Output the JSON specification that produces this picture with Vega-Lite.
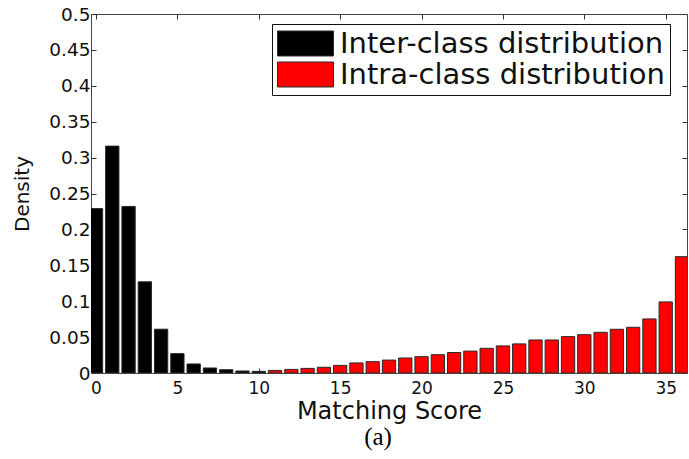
{
  "$schema": "https://vega.github.io/schema/vega-lite/v6.json",
  "width": 596,
  "height": 359,
  "autosize": {"type": "none"},
  "padding": {"left": 91, "top": 14, "right": 2, "bottom": 86},
  "background": "white",
  "config": {"view": {"stroke": null}, "font": "DejaVu Sans"},
  "title": {
    "text": "(a)",
    "orient": "bottom",
    "anchor": "middle",
    "font": "Liberation Serif",
    "fontSize": 25,
    "fontWeight": "normal",
    "color": "black",
    "offset": 22,
    "dy": -20,
    "dx": -11
  },
  "datasets": {
    "inter": [
      {"score": 0, "density": 0.229, "series": "Inter-class distribution"},
      {"score": 1, "density": 0.316, "series": "Inter-class distribution"},
      {"score": 2, "density": 0.232, "series": "Inter-class distribution"},
      {"score": 3, "density": 0.127, "series": "Inter-class distribution"},
      {"score": 4, "density": 0.061, "series": "Inter-class distribution"},
      {"score": 5, "density": 0.027, "series": "Inter-class distribution"},
      {"score": 6, "density": 0.0126, "series": "Inter-class distribution"},
      {"score": 7, "density": 0.007, "series": "Inter-class distribution"},
      {"score": 8, "density": 0.0046, "series": "Inter-class distribution"},
      {"score": 9, "density": 0.0028, "series": "Inter-class distribution"},
      {"score": 10, "density": 0.0023, "series": "Inter-class distribution"}
    ],
    "intra": [
      {"score": 11, "density": 0.0036, "series": "Intra-class distribution"},
      {"score": 12, "density": 0.005, "series": "Intra-class distribution"},
      {"score": 13, "density": 0.0064, "series": "Intra-class distribution"},
      {"score": 14, "density": 0.008, "series": "Intra-class distribution"},
      {"score": 15, "density": 0.0106, "series": "Intra-class distribution"},
      {"score": 16, "density": 0.014, "series": "Intra-class distribution"},
      {"score": 17, "density": 0.0158, "series": "Intra-class distribution"},
      {"score": 18, "density": 0.018, "series": "Intra-class distribution"},
      {"score": 19, "density": 0.0209, "series": "Intra-class distribution"},
      {"score": 20, "density": 0.0227, "series": "Intra-class distribution"},
      {"score": 21, "density": 0.0255, "series": "Intra-class distribution"},
      {"score": 22, "density": 0.0285, "series": "Intra-class distribution"},
      {"score": 23, "density": 0.0305, "series": "Intra-class distribution"},
      {"score": 24, "density": 0.0344, "series": "Intra-class distribution"},
      {"score": 25, "density": 0.0377, "series": "Intra-class distribution"},
      {"score": 26, "density": 0.0405, "series": "Intra-class distribution"},
      {"score": 27, "density": 0.046, "series": "Intra-class distribution"},
      {"score": 28, "density": 0.046, "series": "Intra-class distribution"},
      {"score": 29, "density": 0.0507, "series": "Intra-class distribution"},
      {"score": 30, "density": 0.0534, "series": "Intra-class distribution"},
      {"score": 31, "density": 0.0567, "series": "Intra-class distribution"},
      {"score": 32, "density": 0.0609, "series": "Intra-class distribution"},
      {"score": 33, "density": 0.0637, "series": "Intra-class distribution"},
      {"score": 34, "density": 0.0753, "series": "Intra-class distribution"},
      {"score": 35, "density": 0.099, "series": "Intra-class distribution"},
      {"score": 36, "density": 0.162, "series": "Intra-class distribution"}
    ]
  },
  "layer": [
    {
      "data": {"name": "inter"},
      "mark": {"type": "bar", "width": 13.3, "clip": true, "stroke": "#2a2a2a", "strokeWidth": 1},
      "encoding": {
        "x": {
          "field": "score",
          "type": "quantitative",
          "scale": {"domain": [0, 36], "nice": false, "zero": false},
          "axis": {
            "orient": "bottom",
            "values": [0, 5, 10, 15, 20, 25, 30, 35],
            "format": "d",
            "grid": false,
            "domainColor": "#444444",
            "tickColor": "#333333",
            "tickSize": -5,
            "labelFont": "DejaVu Sans",
            "labelFontSize": 17,
            "labelColor": "#111111",
            "labelPadding": 12,
            "labelFlush": false,
            "title": "Matching Score",
            "titleFont": "DejaVu Sans",
            "titleFontSize": 24,
            "titleFontWeight": "normal",
            "titleColor": "#111111",
            "titlePadding": 3
          }
        },
        "y": {
          "field": "density",
          "type": "quantitative",
          "scale": {"domain": [0, 0.5], "nice": false},
          "axis": {
            "orient": "left",
            "values": [0, 0.05, 0.1, 0.15, 0.2, 0.25, 0.3, 0.35, 0.4, 0.45, 0.5],
            "format": ".2~f",
            "grid": false,
            "domainColor": "#444444",
            "tickColor": "#333333",
            "tickSize": -5,
            "labelFont": "DejaVu Sans",
            "labelFontSize": 18.5,
            "labelColor": "#111111",
            "labelPadding": 6,
            "labelFlush": false,
            "title": "Density",
            "titleFont": "DejaVu Sans",
            "titleFontSize": 20,
            "titleFontWeight": "normal",
            "titleColor": "#111111",
            "titlePadding": 16
          }
        },
        "fill": {
          "field": "series",
          "type": "nominal",
          "scale": {
            "domain": ["Inter-class distribution", "Intra-class distribution"],
            "range": ["#000000", "#ff0000"]
          },
          "legend": {
            "orient": "none",
            "legendX": 181,
            "legendY": 10,
            "title": null,
            "direction": "vertical",
            "symbolType": "M-1,-0.892L3,-0.892L3,0.892L-1,0.892Z",
            "symbolSize": 784,
            "symbolStrokeColor": "#111111",
            "symbolStrokeWidth": 1,
            "labelFont": "DejaVu Sans",
            "labelFontSize": 29,
            "labelColor": "#111111",
            "labelLimit": 0,
            "labelOffset": 34,
            "padding": 5,
            "rowPadding": 1,
            "strokeColor": "#111111",
            "fillColor": "white",
            "cornerRadius": 0
          }
        }
      }
    },
    {
      "data": {"name": "intra"},
      "mark": {"type": "bar", "width": 13.3, "clip": true, "stroke": "#2a2a2a", "strokeWidth": 1},
      "encoding": {
        "x": {
          "field": "score",
          "type": "quantitative",
          "axis": {
            "orient": "top",
            "values": [0, 5, 10, 15, 20, 25, 30, 35],
            "grid": false,
            "labels": false,
            "title": null,
            "domainColor": "#444444",
            "tickColor": "#333333",
            "tickSize": -5
          }
        },
        "y": {
          "field": "density",
          "type": "quantitative",
          "axis": {
            "orient": "right",
            "values": [0, 0.05, 0.1, 0.15, 0.2, 0.25, 0.3, 0.35, 0.4, 0.45, 0.5],
            "grid": false,
            "labels": false,
            "title": null,
            "domainColor": "#444444",
            "tickColor": "#333333",
            "tickSize": -5
          }
        },
        "fill": {"field": "series", "type": "nominal"}
      }
    }
  ],
  "resolve": {"axis": {"x": "independent", "y": "independent"}}
}
